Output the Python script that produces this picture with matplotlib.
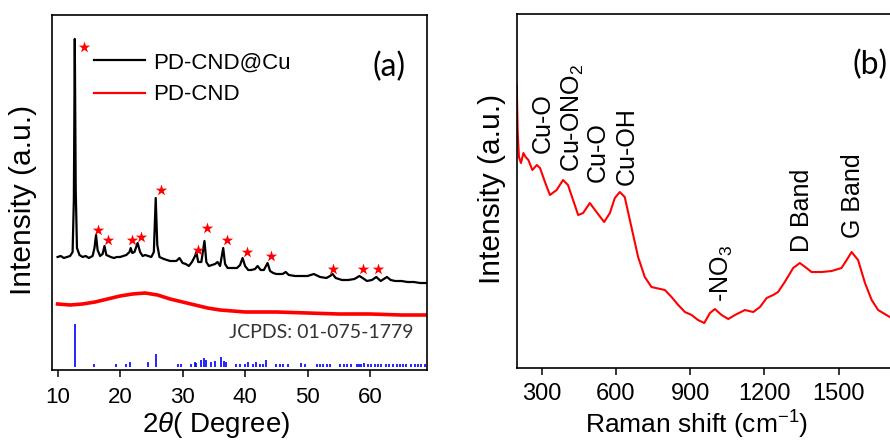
import numpy as np
import matplotlib
matplotlib.use("agg")
import matplotlib.pyplot as plt

# ---- (a) XRD, intensities in arbitrary units ----
xrd_2theta = [10, 10.5, 11, 11.5, 12, 12.4, 12.6, 12.75, 12.9, 13.1, 13.5, 14, 14.5, 15, 15.6, 15.9,
              16.15, 16.4, 16.8, 17.2, 17.5, 17.8, 18.5, 19, 19.5, 20, 20.5, 21, 21.5, 21.7, 21.95,
              22.3, 22.8, 23.2, 23.6, 24, 24.5, 25, 25.4, 25.7, 25.95, 26.3, 27, 27.5, 28, 28.5, 29,
              29.5, 30, 30.5, 31, 31.5, 32, 32.2, 32.5, 33, 33.5, 33.8, 34.2, 34.7, 35.2, 35.6, 36,
              36.5, 36.8, 37.2, 38, 38.7, 39.2, 39.6, 40, 40.5, 41, 41.6, 42, 42.5, 43, 43.6, 44,
              44.5, 45, 46, 46.5, 47, 48, 49, 50, 51, 52, 53, 53.6, 54, 54.5, 55.5, 56.5, 57.5, 58.3,
              58.8, 59.5, 60.3, 61, 61.7, 62.7, 63.3, 64, 65, 66, 67, 68, 69]
cu_intensity = [113, 114, 112, 113, 114, 118, 170, 331, 180, 122, 115, 113, 114, 112, 114, 122,
                135, 120, 114, 116, 124, 115, 113, 112, 113, 113, 114, 115, 118, 122, 117,
                118, 127, 118, 114, 115, 114, 113, 118, 172, 125, 113, 111, 110, 109, 109, 109,
                112, 107, 106, 104, 108, 114, 118, 108, 108, 129, 108, 104, 105, 106, 108, 104,
                122, 106, 102, 102, 102, 105, 112, 104, 100, 100, 101, 104, 100, 100, 107, 99,
                97, 96, 96, 98, 95, 94, 94, 94, 96, 93, 92, 94, 96, 92, 90, 90, 91, 94,
                92, 89, 90, 93, 89, 93, 90, 89, 89, 88, 88, 87, 87]

cnd_2theta = [10, 12, 14, 16, 18, 20, 22, 24, 26, 28, 30, 32, 34, 36, 38, 40, 45, 50, 55, 60, 65, 69]
cnd_intensity = [66, 65, 66, 68, 71, 74, 76, 77, 75, 71, 68, 65, 62, 60, 59, 58, 58, 57, 56, 56, 55, 55]

star_2theta = [14.3, 16.4, 18.1, 21.9, 23.3, 26.5, 32.5, 33.9, 37.1, 40.3, 44.2, 54.1, 58.8, 61.3]
star_height = [323, 140, 130, 130, 133, 180, 120, 142, 130, 118, 114, 101, 101, 101]

# JCPDS 01-075-1779 reference lines
ref_2theta = [12.77, 15.9, 19.3, 20.9, 21.6, 24.4, 25.7, 29.2, 29.7, 31.4, 32.0, 32.2, 33.0, 33.5,
              33.7, 34.6, 35.2, 36.2, 36.6, 37.0, 38.6, 39.2, 40.0, 40.4, 41.3, 41.8, 42.4, 42.9,
              43.4, 45.0, 45.6, 46.1, 46.8, 49.0, 49.6, 51.5, 52.0, 52.5, 53.1, 53.6, 55.2, 55.8,
              56.3, 57.0, 57.9, 58.3, 58.6, 59.0, 59.7, 60.2, 60.8, 61.3, 61.8, 62.6, 63.0, 63.7,
              64.3, 64.8, 65.3, 65.8, 66.6, 67.2, 67.7, 68.2, 68.8]
ref_height = [43, 3, 3, 3, 5, 5, 13, 3, 3, 3, 5, 4, 7, 9,
              7, 5, 6, 10, 6, 5, 3, 3, 3, 5, 3, 5, 3, 3,
              7, 3, 3, 3, 3, 4, 3, 3, 3, 3, 3, 3, 3, 3,
              3, 3, 3, 3, 3, 4, 3, 3, 3, 3, 3, 3, 3, 3,
              3, 3, 3, 3, 3, 3, 3, 3, 3]

# ---- (b) Raman ----
raman_shift = [200, 204, 209, 217, 227, 236, 247, 263, 281, 294, 314, 334, 361, 387, 407, 448, 468,
               495, 522, 553, 576, 596, 616, 636, 663, 690, 717, 744, 798, 825, 852, 879, 906, 932,
               957, 980, 1000, 1027, 1054, 1081, 1121, 1155, 1182, 1209, 1235, 1255, 1282, 1316,
               1343, 1370, 1390, 1431, 1471, 1511, 1532, 1552, 1578, 1606, 1633, 1659, 1706, 1740]
raman_intensity = [283, 235, 211, 205, 215, 211, 208, 198, 203, 200, 186, 173, 178, 188, 183, 153, 155,
                   165, 156, 146, 155, 170, 176, 171, 141, 111, 91, 81, 78, 71, 63, 56, 53, 48,
                   45, 55, 59, 53, 49, 53, 58, 56, 61, 70, 73, 76, 86, 100,
                   105, 100, 96, 96, 97, 100, 108, 116, 108, 85, 68, 58, 51, 48]

band_labels = ["Cu-O", "Cu-ONO$_2$", "Cu-O", "Cu-OH", "-NO$_3$", "D Band", "G Band"]
band_shift = [306, 427, 528, 645, 1029, 1352, 1559]
band_height = [215, 196, 186, 183, 66, 116, 130]

plt.rcParams["font.family"] = ["Liberation Sans", "DejaVu Sans"]
plt.rcParams["mathtext.fontset"] = "custom"
plt.rcParams["mathtext.rm"] = "Liberation Sans"
plt.rcParams["mathtext.it"] = "Liberation Sans:italic"

fig = plt.figure(figsize=(8.9, 4.41), dpi=100)

# (a)
ax1 = fig.add_axes([0.0584, 0.161, 0.4213, 0.805])
ax1.plot(xrd_2theta, cu_intensity, color="black", lw=1.6, label="PD-CND@Cu")
ax1.plot(cnd_2theta, cnd_intensity, color="red", lw=2.6, label="PD-CND")
ax1.vlines(ref_2theta, 3, 3 + np.array(ref_height), color="blue", lw=1.2)
ax1.scatter(star_2theta, star_height, marker="*", s=75, color="red", linewidths=0, zorder=3)
ax1.set_xlim(9.1, 69.1)
ax1.set_ylim(0, 355)
ax1.set_xticks([10, 20, 30, 40, 50, 60])
ax1.set_yticks([])
ax1.tick_params(axis="x", direction="out", length=5, width=1.1, labelsize=16, pad=7)
ax1.set_xlabel("2$\\it{\\theta}$( Degree)", fontsize=20)
ax1.xaxis.set_label_coords(0.437, -0.112)
ax1.set_ylabel("Intensity (a.u.)", fontsize=21.5, va="center")
ax1.yaxis.set_label_coords(-0.077, 0.48)
leg = ax1.legend(loc="upper left", bbox_to_anchor=(0.113, 0.895), frameon=False, fontsize=16,
                 handlelength=2.3, handletextpad=0.35, labelspacing=0.5, borderpad=0,
                 borderaxespad=0)
for handle in leg.get_lines():
    handle.set_linewidth(1.6)
ax1.text(0.90, 0.855, "(a)", transform=ax1.transAxes, fontsize=23, family="Lato",
         ha="center", va="center")
ax1.text(0.965, 0.083, "JCPDS: 01-075-1779", transform=ax1.transAxes, fontsize=14,
         family="Lato", color="#333333", ha="right", va="bottom")

# (b)
ax2 = fig.add_axes([0.5806, 0.1655, 0.4453, 0.8027])
ax2.plot(raman_shift, raman_intensity, color="red", lw=1.5)
for label, x, y in zip(band_labels, band_shift, band_height):
    ax2.text(x, y, label, rotation=90, fontsize=18, ha="center", va="bottom")
ax2.set_xlim(200, 1800)
ax2.set_ylim(0, 354)
ax2.set_xticks([300, 600, 900, 1200, 1500])
ax2.set_yticks([])
ax2.tick_params(axis="x", direction="out", length=5, width=1.1, labelsize=17, pad=6)
ax2.set_xlabel("Raman shift (cm$^{-1}$)", fontsize=19)
ax2.xaxis.set_label_coords(0.455, -0.115)
ax2.set_ylabel("Intensity (a.u.)", fontsize=21.5, va="center")
ax2.yaxis.set_label_coords(-0.0623, 0.505)
ax2.text(0.891, 0.855, "(b)", transform=ax2.transAxes, fontsize=23, family="Lato",
         ha="center", va="center")

for ax in (ax1, ax2):
    for spine in ax.spines.values():
        spine.set_linewidth(1.2)

fig.savefig("out.png", dpi=100)
